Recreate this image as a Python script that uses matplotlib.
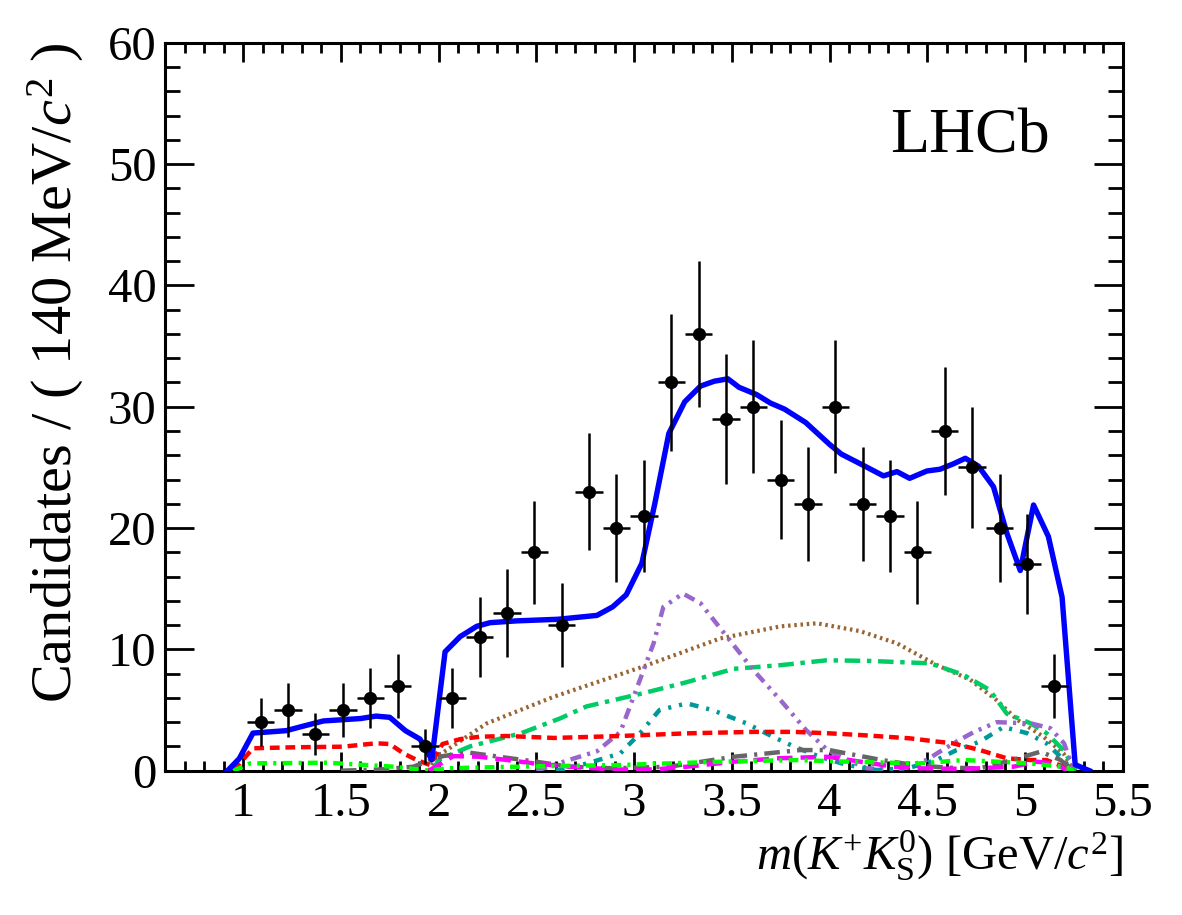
import matplotlib
matplotlib.use("Agg")
import matplotlib.pyplot as plt
from matplotlib.ticker import MultipleLocator
import numpy as np

# ---------------- data ----------------
bin_centers = [1.09, 1.23, 1.37, 1.51, 1.65, 1.79, 1.93, 2.07, 2.21, 2.35, 2.49, 2.63,
               2.77, 2.91, 3.05, 3.19, 3.33, 3.47, 3.61, 3.75, 3.89, 4.03, 4.17, 4.31,
               4.45, 4.59, 4.73, 4.87, 5.01, 5.15]
counts = [4, 5, 3, 5, 6, 7, 2, 6, 11, 13, 18, 12, 23, 20, 21, 32, 36, 29, 30, 24, 22, 30,
          22, 21, 18, 28, 25, 20, 17, 7]
bin_width = 0.14

total_x = [0.92, 0.98, 1.05, 1.22, 1.29, 1.41, 1.60, 1.68, 1.75, 1.83, 1.905, 1.965, 2.033,
           2.11, 2.195, 2.263, 2.40, 2.61, 2.81, 2.89, 2.96, 3.04, 3.106, 3.178, 3.259, 3.34,
           3.41, 3.48, 3.537, 3.627, 3.698, 3.77, 3.878, 4.0, 4.06, 4.157, 4.276, 4.345,
           4.41, 4.498, 4.566, 4.635, 4.695, 4.762, 4.839, 4.907, 4.976, 5.044, 5.12, 5.19,
           5.257, 5.30, 5.33]
total_y = [0, 1.0, 3.1, 3.3, 3.6, 4.1, 4.3, 4.5, 4.4, 3.3, 2.6, 0.9, 9.8, 11.05, 11.9, 12.2,
           12.35, 12.48, 12.8, 13.5, 14.5, 17.1, 22.0, 27.8, 30.4, 31.7, 32.1, 32.3, 31.6,
           31.0, 30.3, 29.8, 28.7, 26.9, 26.1, 25.3, 24.3, 24.65, 24.1, 24.7, 24.85, 25.3,
           25.75, 25.1, 23.4, 19.6, 16.5, 21.9, 19.3, 14.3, 0.5, 0.2, 0]

red_x = [0.95, 1.05, 1.26, 1.51, 1.68, 1.75, 1.82, 1.888, 1.956, 2.02, 2.11, 2.21, 2.35,
         2.59, 2.93, 3.27, 3.61, 3.82, 4.0, 4.16, 4.41, 4.55, 4.63, 4.77, 4.907, 5.03, 5.11,
         5.197, 5.25]
red_y = [0, 1.85, 1.93, 1.98, 2.26, 2.2, 1.43, 0.88, 0.47, 2.2, 2.6, 2.8, 2.86, 2.7, 2.86,
         3.08, 3.2, 3.2, 3.08, 2.94, 2.67, 2.4, 2.26, 1.7, 1.02, 0.88, 0.88, 0.33, 0]

brown_x = [1.95, 1.99, 2.246, 2.59, 3.05, 3.44, 3.75, 3.935, 4.157, 4.345,
           4.55, 4.72, 4.856, 4.96, 5.095, 5.197, 5.25]
brown_y = [0, 1.15, 3.9, 6.1, 8.6, 10.9, 11.9, 12.15, 11.5, 10.5, 8.7,
           7.5, 5.8, 4.2, 2.8, 1.43, 0]

green_x = [1.97, 2.0, 2.16, 2.42, 2.62, 2.757, 3.05, 3.27, 3.51, 3.75, 3.986, 4.2, 4.515,
           4.686, 4.82, 4.907, 5.03, 5.11, 5.197, 5.26]
green_y = [0, 0.9, 2.0, 3.08, 4.3, 5.3, 6.4, 7.3, 8.4, 8.7, 9.1, 9.05, 8.85, 7.9, 6.65, 4.7,
           3.9, 3.1, 1.7, 0]

purple_x = [2.5, 2.67, 2.81, 2.93, 3.014, 3.1, 3.15, 3.25, 3.34, 3.475, 3.61, 3.75, 3.88,
            3.99, 4.09, 4.19, 4.35, 4.5, 4.55, 4.65, 4.74, 4.856, 5.03, 5.13, 5.2, 5.25]
purple_y = [0, 0.9, 1.6, 3.2, 6.8, 10.5, 13.5, 14.6, 13.8, 11.05, 8.3, 5.8, 3.35, 1.7, 0.9,
            0.2, 0.1, 0.9, 1.43, 2.4, 3.2, 4.0, 3.9, 3.5, 2.26, 0]

teal_x = [2.6, 2.76, 2.93, 3.03, 3.13, 3.27, 3.4, 3.576, 3.71, 3.82, 3.95, 4.09, 4.24, 4.4,
          4.55, 4.65, 4.77, 4.89, 5.01, 5.11, 5.2, 5.24]
teal_y = [0, 0.6, 1.43, 3.08, 5.0, 5.55, 5.0, 3.9, 2.8, 1.98, 1.15, 0.47, 0.06, 0.2, 0.9,
          1.7, 2.4, 3.6, 3.1, 2.26, 0.88, 0]

gray_x = [1.5, 1.7, 1.87, 2.02, 2.16, 2.31, 2.5, 2.67, 2.9, 3.18, 3.51, 3.85, 4.0, 4.07,
          4.26, 4.43, 4.6, 4.77, 4.94, 5.08, 5.18, 5.25]
gray_y = [0, 0.1, 0.33, 1.2, 1.48, 1.15, 0.74, 0.33, 0.2, 0.33, 1.15, 1.7, 1.7, 1.48, 0.9,
          0.47, 0.25, 0.2, 0.9, 1.57, 0.9, 0]

magenta_x = [1.95, 2.075, 2.21, 2.35, 2.49, 2.67, 2.9, 3.1, 3.27, 3.51, 3.73, 3.99, 4.16,
             4.33, 4.45, 4.7, 4.94, 5.06, 5.15, 5.22]
magenta_y = [0, 1.2, 1.15, 0.88, 0.6, 0.33, 0.1, 0.1, 0.33, 0.74, 1.02, 1.15, 0.74, 0.33,
             0.2, 0.15, 0.33, 0.74, 0.6, 0]

lime_x = [0.95, 1.035, 1.43, 1.77, 1.95, 2.04, 2.4, 2.93, 3.44, 3.82, 4.1, 4.46, 4.69, 4.86,
          5.03, 5.2, 5.25]
lime_y = [0, 0.6, 0.66, 0.33, 0, 0.2, 0.33, 0.47, 0.74, 0.88, 0.74, 0.6, 0.88, 0.74, 0.6,
          0.3, 0]

xticks = [1, 1.5, 2, 2.5, 3, 3.5, 4, 4.5, 5, 5.5]
xtick_labels = ["1", "1.5", "2", "2.5", "3", "3.5", "4", "4.5", "5", "5.5"]
yticks = [0, 10, 20, 30, 40, 50, 60]

# ---------------- style ----------------
plt.rcParams['font.family'] = ['Liberation Serif', 'DejaVu Serif']
plt.rcParams['mathtext.fontset'] = 'custom'
plt.rcParams['mathtext.rm'] = 'Liberation Serif'
plt.rcParams['mathtext.it'] = 'Liberation Serif:italic'
plt.rcParams['mathtext.bf'] = 'Liberation Serif:bold'

fig = plt.figure(figsize=(11.82, 9.15), dpi=100)
ax = fig.add_axes([0.1396, 0.1577, 0.9498 - 0.1396, 0.9533 - 0.1577])

# components
comp_lw = 3.2
ax.plot(brown_x, brown_y, color='#996633', lw=3.0, ls=(0, (0.6, 0.9)), zorder=3)
ax.plot(green_x, green_y, color='#00cc66', lw=comp_lw, ls=(0, (3.5, 1.5, 1.0, 1.5)), zorder=3)
ax.plot(purple_x, purple_y, color='#9966cc', lw=comp_lw,
        ls=(0, (2.5, 1.4, 0.7, 1.4, 0.7, 1.4)), zorder=3)
ax.plot(teal_x, teal_y, color='#009999', lw=comp_lw,
        ls=(0, (2.0, 1.8, 0.7, 1.8, 0.7, 1.8)), zorder=3)
ax.plot(red_x, red_y, color='#ff0000', lw=comp_lw, ls=(0, (2.2, 1.3)), zorder=3)
ax.plot(gray_x, gray_y, color='#666666', lw=comp_lw, ls=(0, (3.5, 1.6, 0.7, 1.6)), zorder=3)
ax.plot(magenta_x, magenta_y, color='#ff00ff', lw=comp_lw, ls=(0, (3.5, 1.8)), zorder=3)
ax.plot(lime_x, lime_y, color='#00ff00', lw=comp_lw, ls=(0, (2.2, 1.4, 0.7, 1.4)), zorder=3)

# total fit
ax.plot(total_x, total_y, color='#0000ff', lw=3.9, zorder=4)

# data
err = np.sqrt(np.array(counts, dtype=float))
ax.errorbar(bin_centers, counts, yerr=err, xerr=bin_width / 2, fmt='o', color='black',
            ms=8.5, elinewidth=1.8, capsize=0, zorder=5)

ax.set_xlim(0.6, 5.5)
ax.set_ylim(0, 60)
ax.set_xticks(xticks)
ax.set_xticklabels(xtick_labels)
ax.set_yticks(yticks)
ax.xaxis.set_minor_locator(MultipleLocator(0.1))
ax.yaxis.set_minor_locator(MultipleLocator(2))

for s in ax.spines.values():
    s.set_linewidth(2.2)

ax.tick_params(axis='both', which='both', direction='in', top=True, right=True,
               labelsize=35, width=2.0)
ax.tick_params(axis='x', which='major', length=14, pad=8)
ax.tick_params(axis='x', which='minor', length=7)
ax.tick_params(axis='y', which='major', length=21, pad=6)
ax.tick_params(axis='y', which='minor', length=11)

ax.set_xlabel(r'$m(K^{+}K^{0}_{\mathrm{S}})$ [GeV/$c^{2}$]', fontsize=35, ha='right',
              x=1.0, labelpad=2)
ax.set_ylabel(r'Candidates / ( 140 MeV/$c^{2}$ )', fontsize=42, ha='right', y=1.0,
              labelpad=16)

ax.text(0.924, 0.870, 'LHCb', transform=ax.transAxes, fontsize=46, ha='right',
        va='center')

fig.savefig('out.png', dpi=100)
